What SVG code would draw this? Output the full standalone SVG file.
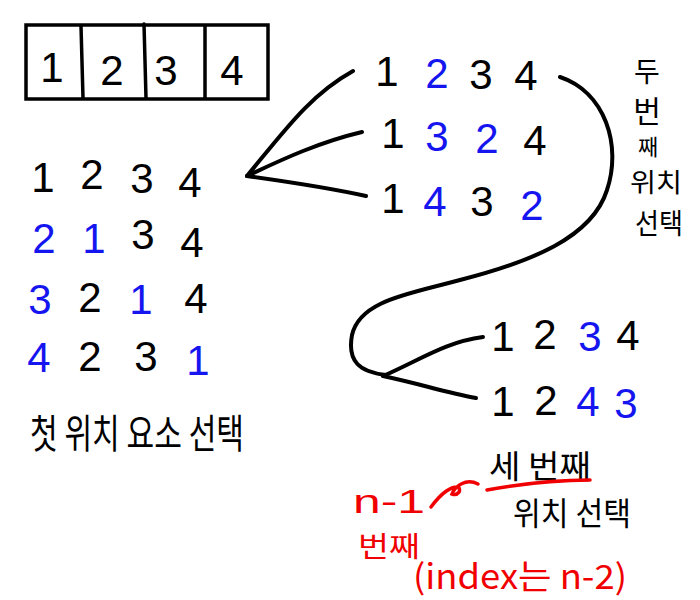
<svg xmlns="http://www.w3.org/2000/svg" width="700" height="600" viewBox="0 0 700 600">
<style>
.k{fill:#000}
.b{fill:#1515f0}
.r{fill:#f00000}
text{font-family:"Liberation Sans","Noto Sans CJK KR",sans-serif;text-anchor:middle}
.d{font-size:42px}
.h{font-family:"Noto Sans CJK KR","Liberation Sans",sans-serif}
.ln{fill:none;stroke:#000;stroke-width:4;stroke-linecap:round}
.rl{fill:none;stroke:#f00000;stroke-width:3.5;stroke-linecap:round}
</style>
<rect width="700" height="600" fill="#fff"/>
<g id="array">
<rect x="26" y="25" width="242" height="74" fill="none" stroke="#000" stroke-width="3.5"/>
<path class="ln" d="M81,26 L83,98 M144,24 L146,98 M205,26 L205,98" style="stroke-width:3.5"/>
<text class="d k" x="52" y="82">1</text>
<text class="d k" x="112" y="85">2</text>
<text class="d k" x="166" y="85">3</text>
<text class="d k" x="232" y="85">4</text>
</g>
<g id="first-rows">
<text class="d k" x="43" y="192">1</text><text class="d k" x="92" y="189">2</text><text class="d k" x="142" y="193">3</text><text class="d k" x="190" y="197">4</text>
<text class="d b" x="44" y="253">2</text><text class="d b" x="94" y="253">1</text><text class="d k" x="143" y="249">3</text><text class="d k" x="192" y="257">4</text>
<text class="d b" x="40" y="314">3</text><text class="d k" x="90" y="312">2</text><text class="d b" x="141" y="314">1</text><text class="d k" x="196" y="313">4</text>
<text class="d b" x="39" y="372">4</text><text class="d k" x="90" y="371">2</text><text class="d k" x="146" y="371">3</text><text class="d b" x="198" y="375">1</text>
<text class="h k" x="137" y="448" font-size="40" textLength="214" lengthAdjust="spacingAndGlyphs">첫 위치 요소 선택</text>
</g>
<g id="second-rows">
<text class="d k" x="387" y="86">1</text><text class="d b" x="437" y="88">2</text><text class="d k" x="481" y="89">3</text><text class="d k" x="526" y="90">4</text>
<text class="d k" x="393" y="148">1</text><text class="d b" x="437" y="151">3</text><text class="d b" x="487" y="153">2</text><text class="d k" x="535" y="155">4</text>
<text class="d k" x="393" y="213">1</text><text class="d b" x="435" y="216">4</text><text class="d k" x="482" y="216">3</text><text class="d b" x="532" y="220">2</text>
</g>
<g id="second-label">
<text class="h k" x="647" y="82" font-size="28">두</text>
<text class="h k" x="647" y="122" font-size="30">번</text>
<text class="h k" x="648" y="155" font-size="22">째</text>
<text class="h k" x="656" y="192" font-size="26" textLength="52" lengthAdjust="spacingAndGlyphs">위치</text>
<text class="h k" x="659" y="234" font-size="28" textLength="48" lengthAdjust="spacingAndGlyphs">선택</text>
</g>
<g id="third-rows">
<text class="d k" x="503" y="351">1</text><text class="d k" x="545" y="349">2</text><text class="d b" x="590" y="351">3</text><text class="d k" x="628" y="350">4</text>
<text class="d k" x="503" y="416">1</text><text class="d k" x="546" y="415">2</text><text class="d b" x="588" y="416">4</text><text class="d b" x="626" y="418">3</text>
</g>
<g id="third-label">
<text class="h k" x="540" y="478" font-size="32" textLength="102" lengthAdjust="spacingAndGlyphs">세 번째</text>
<text class="h k" x="572" y="525" font-size="32" textLength="118" lengthAdjust="spacingAndGlyphs">위치 선택</text>
</g>
<g id="note">
<text class="r" x="389" y="513" font-size="34" style="font-family:'Liberation Sans',sans-serif" textLength="72" lengthAdjust="spacingAndGlyphs">n-1</text>
<text class="h r" x="389" y="557" font-size="28" textLength="62" lengthAdjust="spacingAndGlyphs">번째</text>
<text class="h r" x="520" y="589" font-size="34" textLength="214" lengthAdjust="spacingAndGlyphs">(index는 n-2)</text>
</g>
<g id="connectors">
<path class="ln" d="M247,176 C285,130 310,95 353,71"/>
<path class="ln" d="M247,176 C285,158 320,142 362,132"/>
<path class="ln" d="M247,176 C290,182 330,188 366,196"/>
<path class="ln" d="M560,77 C605,92 622,145 607,190 C592,238 530,262 460,280 C410,294 360,300 352,335 C347,362 360,372 386,375"/>
<path class="ln" d="M383,376 C420,360 445,342 483,337"/>
<path class="ln" d="M383,376 C420,384 445,392 476,398"/>
<path class="rl" d="M487,490 C520,484 560,480 590,480"/>
<path class="rl" d="M431,507 C442,492 452,486 458,487 C462,490 458,496 452,494 C455,486 466,478 478,484"/>
</g>
</svg>
